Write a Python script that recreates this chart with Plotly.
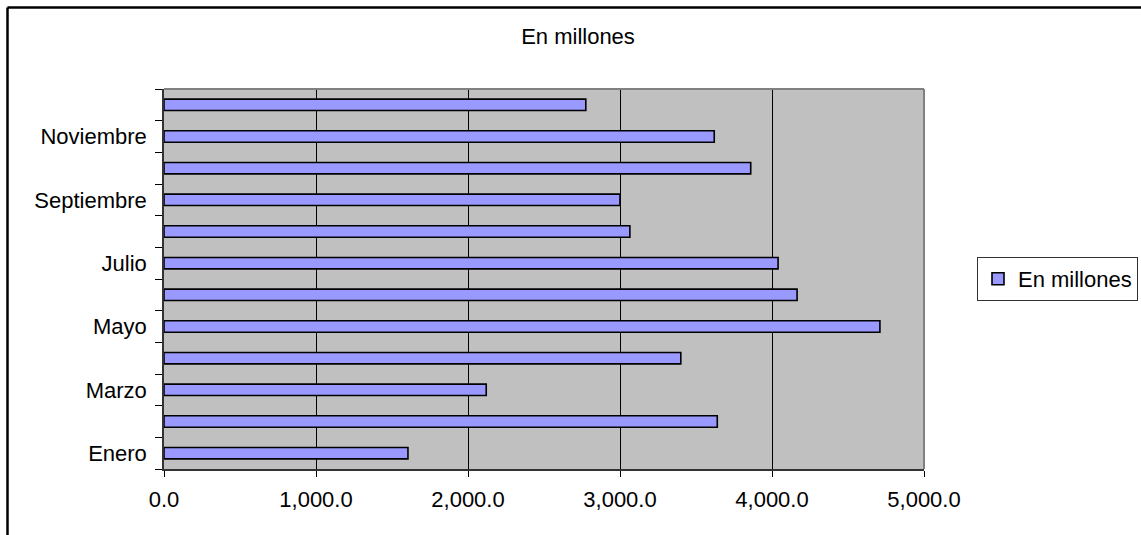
import plotly.graph_objects as go

# Monthly amounts (millions)
months = ["Enero", "Febrero", "Marzo", "Abril", "Mayo", "Junio",
          "Julio", "Agosto", "Septiembre", "Octubre", "Noviembre", "Diciembre"]
values = [1605, 3640, 2120, 3400, 4710, 4165, 4040, 3065, 3000, 3860, 3620, 2775]
month_labels = ["Enero", "", "Marzo", "", "Mayo", "", "Julio", "",
                "Septiembre", "", "Noviembre", ""]
x_ticks = [0, 1000, 2000, 3000, 4000, 5000]
series_name = "En millones"

W, H = 1141, 535
L, R, T, B = 164, 924, 89, 469  # plot area in pixels


def px_x(p):
    return (p - L) / (R - L)


def px_y(p):
    return (B - p) / (B - T)


FONT = "Liberation Sans, Arial, sans-serif"
FS = 22

fig = go.Figure(
    go.Bar(
        x=values,
        y=months,
        orientation="h",
        name=series_name,
        marker=dict(color="#9999FF", line=dict(color="#000000", width=1.6)),
        showlegend=True,
    )
)

fig.update_layout(
    width=W,
    height=H,
    margin=dict(l=L, r=W - R, t=T, b=H - B, pad=0, autoexpand=False),
    paper_bgcolor="white",
    plot_bgcolor="#C0C0C0",
    bargap=0.64,
    font=dict(family=FONT, size=FS, color="#000000"),
    title=dict(
        text=series_name,
        x=578 / W,
        xref="container",
        xanchor="center",
        y=1 - 36 / H,
        yref="container",
        yanchor="middle",
        font=dict(family=FONT, size=FS, color="#000000"),
    ),
    legend=dict(
        x=px_x(1138),
        xanchor="right",
        y=px_y(279),
        yanchor="middle",
        bgcolor="white",
        bordercolor="#333333",
        borderwidth=1,
        itemwidth=30,
        font=dict(family=FONT, size=FS, color="#000000"),
    ),
    shapes=[
        # plot area frame (top and right)
        dict(type="line", xref="paper", yref="paper", x0=0, x1=1, y0=1, y1=1,
             line=dict(color="#808080", width=2)),
        dict(type="line", xref="paper", yref="paper", x0=1, x1=1, y0=0, y1=1,
             line=dict(color="#808080", width=2)),
        # outer chart border
        dict(type="line", xref="paper", yref="paper",
             x0=px_x(7.5), x1=px_x(W + 10), y0=px_y(7.5), y1=px_y(7.5),
             line=dict(color="#000000", width=2.5)),
        dict(type="line", xref="paper", yref="paper",
             x0=px_x(7.5), x1=px_x(7.5), y0=px_y(7.5), y1=px_y(H + 10),
             line=dict(color="#000000", width=2.5)),
    ],
)

fig.update_xaxes(
    range=[0, 5000],
    tickmode="array",
    tickvals=x_ticks,
    tickformat=",.1f",
    showgrid=True,
    gridcolor="#000000",
    gridwidth=1,
    zeroline=False,
    showline=True,
    linecolor="#333333",
    linewidth=1.5,
    ticks="outside",
    ticklen=6,
    tickwidth=1,
    tickcolor="#000000",
    ticklabelstandoff=4,
    tickfont=dict(family=FONT, size=FS, color="#000000"),
)

fig.update_yaxes(
    type="category",
    categoryorder="array",
    categoryarray=months,
    tickmode="array",
    tickvals=months,
    ticktext=month_labels,
    tickson="boundaries",
    showgrid=False,
    zeroline=False,
    showline=True,
    linecolor="#333333",
    linewidth=1.5,
    ticks="outside",
    ticklen=7,
    tickwidth=1,
    tickcolor="#000000",
    ticklabelstandoff=11,
    tickfont=dict(family=FONT, size=FS, color="#000000"),
)

fig.write_html("out.html")
